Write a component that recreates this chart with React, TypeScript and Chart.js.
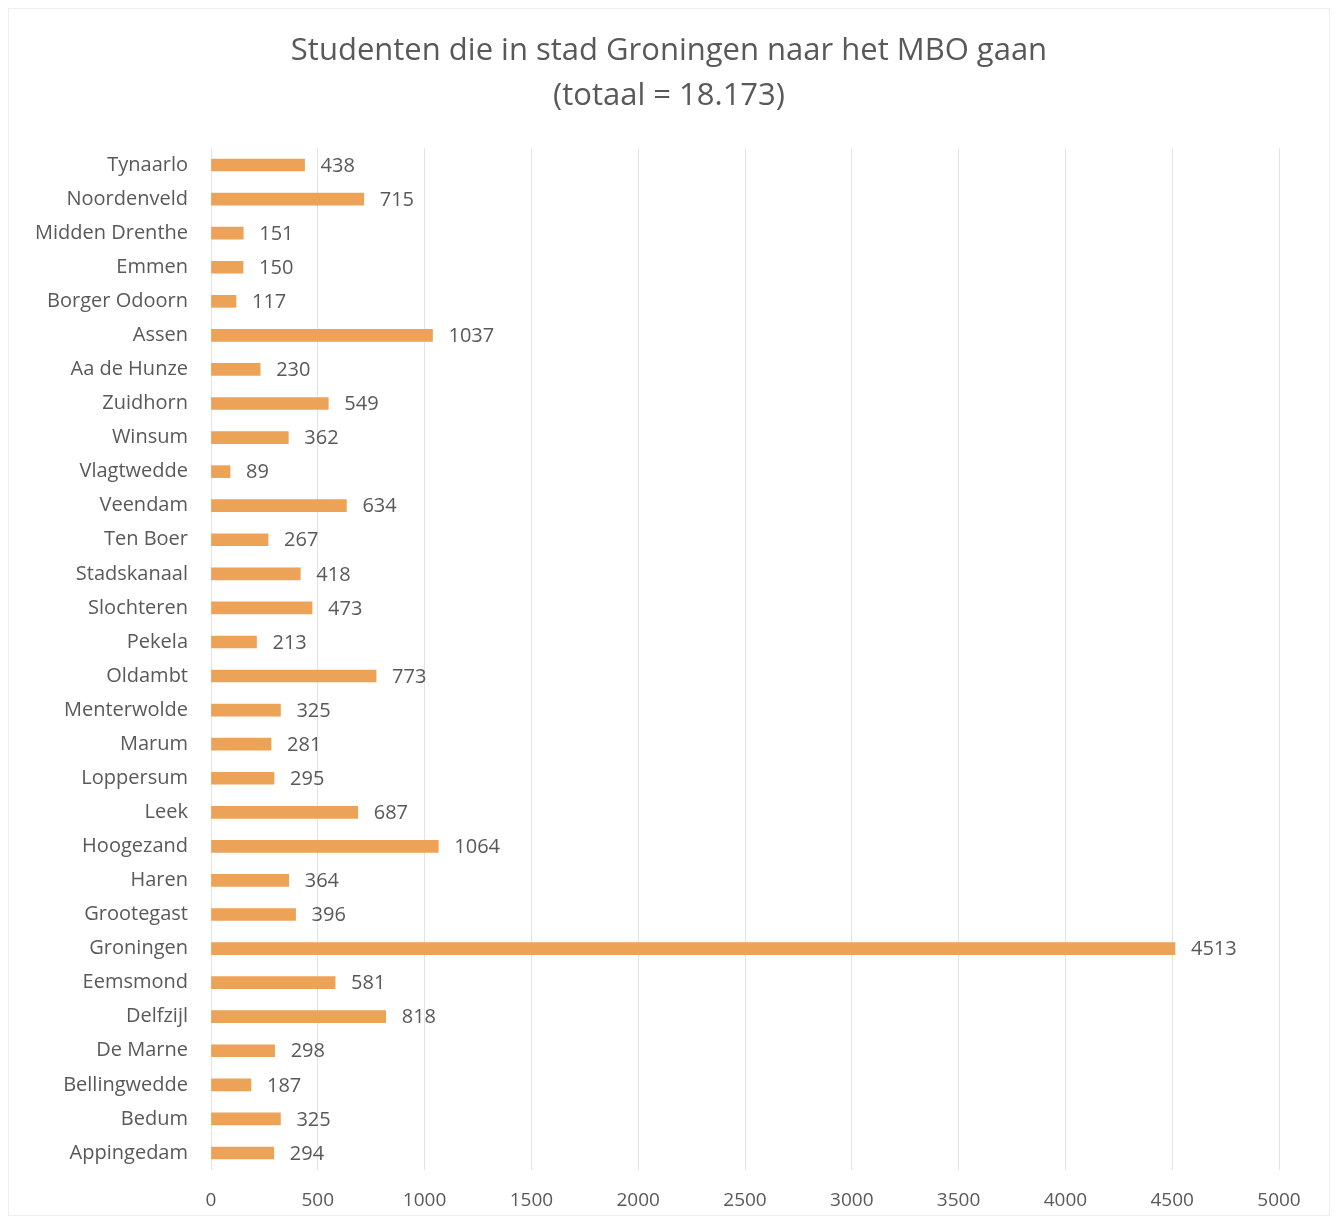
import React, { useEffect, useRef } from "react";
import { Chart, registerables } from "chart.js";

Chart.register(...registerables);

const TITLE_LINES = ["Studenten die in stad Groningen naar het MBO gaan", "(totaal = 18.173)"];

const CATEGORIES = [
  "Tynaarlo", "Noordenveld", "Midden Drenthe", "Emmen", "Borger Odoorn", "Assen",
  "Aa de Hunze", "Zuidhorn", "Winsum", "Vlagtwedde", "Veendam", "Ten Boer",
  "Stadskanaal", "Slochteren", "Pekela", "Oldambt", "Menterwolde", "Marum",
  "Loppersum", "Leek", "Hoogezand", "Haren", "Grootegast", "Groningen",
  "Eemsmond", "Delfzijl", "De Marne", "Bellingwedde", "Bedum", "Appingedam",
];

const STUDENTS = [
  438, 715, 151, 150, 117, 1037,
  230, 549, 362, 89, 634, 267,
  418, 473, 213, 773, 325, 281,
  295, 687, 1064, 364, 396, 4513,
  581, 818, 298, 187, 325, 294,
];

const X_MIN = 0;
const X_MAX = 5000;
const X_STEP = 500;

const FONT = "'Open Sans', 'Noto Sans', sans-serif";
const TEXT = "#595959";
const BAR = "#ECA257";

const valueLabels = {
  id: "valueLabels",
  afterDatasetsDraw(chart: any) {
    const ctx = chart.ctx;
    const meta = chart.getDatasetMeta(0);
    ctx.save();
    ctx.font = `20px ${FONT}`;
    ctx.fillStyle = TEXT;
    ctx.textAlign = "left";
    ctx.textBaseline = "middle";
    meta.data.forEach((el: any, i: number) => {
      const v = chart.data.datasets[0].data[i];
      ctx.fillText(String(v), el.x + 16, el.y + 1);
    });
    ctx.restore();
  },
};

const centeredTitle = {
  id: "centeredTitle",
  afterDraw(chart: any) {
    const ctx = chart.ctx;
    ctx.save();
    ctx.font = `31px ${FONT}`;
    ctx.fillStyle = TEXT;
    ctx.textAlign = "center";
    ctx.textBaseline = "middle";
    const cx = chart.width / 2;
    TITLE_LINES.forEach((line, i) => {
      ctx.fillText(line, cx, 42 + i * 45);
    });
    ctx.restore();
  },
};

export default function App() {
  const ref = useRef<HTMLCanvasElement | null>(null);
  useEffect(() => {
    if (!ref.current) return;
    const chart = new Chart(ref.current, {
      type: "bar",
      data: {
        labels: CATEGORIES,
        datasets: [
          {
            data: STUDENTS,
            backgroundColor: BAR,
            borderWidth: 0,
            barThickness: 12,
          },
        ],
      },
      plugins: [valueLabels, centeredTitle],
      options: {
        indexAxis: "y",
        animation: false,
        responsive: true,
        maintainAspectRatio: false,
        layout: { padding: { top: 139, right: 50, left: 0, bottom: 0 } },
        plugins: {
          legend: { display: false },
          tooltip: { enabled: false },
          title: { display: false },
        },
        scales: {
          x: {
            min: X_MIN,
            max: X_MAX,
            ticks: {
              stepSize: X_STEP,
              color: TEXT,
              font: { family: FONT, size: 19 },
              padding: 19,
              callback: (v: any) => String(v),
            },
            grid: { color: "#e3e3e3", drawTicks: false },
            border: { display: false },
            afterFit: (s: any) => {
              s.height = 45;
            },
          },
          y: {
            ticks: {
              color: TEXT,
              font: { family: FONT, size: 20 },
              padding: 23,
              autoSkip: false,
            },
            grid: { display: false, drawTicks: false },
            border: { display: false },
            afterFit: (s: any) => {
              s.width = 202;
            },
          },
        },
      },
    });
    return () => chart.destroy();
  }, []);
  return (
    <div style={{ width: 1322, height: 1208, position: "relative", boxSizing: "border-box", border: "1px solid #eeeeee" }}>
      <canvas ref={ref} />
    </div>
  );
}
